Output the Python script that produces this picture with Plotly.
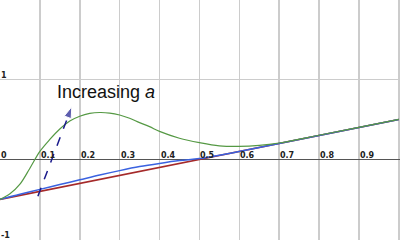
import plotly.graph_objects as go

# Data
x_vals = [0.0, 0.025, 0.05, 0.075, 0.1, 0.125, 0.15, 0.175, 0.2, 0.225, 0.25, 0.275, 0.3,
          0.325, 0.35, 0.375, 0.4, 0.45, 0.5, 0.55, 0.6, 0.65, 0.7, 0.8, 0.9, 1.0]
green_y = [-0.5, -0.43, -0.31, -0.11, 0.1, 0.25, 0.38, 0.48, 0.54, 0.575, 0.587, 0.58, 0.556,
           0.515, 0.46, 0.41, 0.35, 0.265, 0.21, 0.17, 0.163, 0.175, 0.205, 0.302, 0.401, 0.5]
blue_x = [0.0, 0.05, 0.1, 0.15, 0.2, 0.25, 0.3, 0.35, 0.4, 0.45, 0.5, 0.55, 0.6, 0.7, 0.8, 0.9, 1.0]
blue_y = [-0.5, -0.435, -0.375, -0.315, -0.255, -0.195, -0.14, -0.09, -0.05, -0.015, 0.01, 0.052,
          0.1, 0.2, 0.3, 0.4, 0.5]
red_x = [0.0, 1.0]
red_y = [-0.5, 0.5]
arrow_x = [0.095, 0.18]
arrow_y = [-0.46, 0.66]
x_tick_vals = [0.0, 0.1, 0.2, 0.3, 0.4, 0.5, 0.6, 0.7, 0.8, 0.9]
x_tick_text = ["0", "0.1", "0.2", "0.3", "0.4", "0.5", "0.6", "0.7", "0.8", "0.9"]
y_tick_vals = [1, -1]
y_tick_text = ["1", "-1"]

fig = go.Figure()
fig.add_trace(go.Scatter(x=red_x, y=red_y, mode="lines",
                         line=dict(color="#a52a2a", width=1.6)))
fig.add_trace(go.Scatter(x=blue_x, y=blue_y, mode="lines", line_shape="spline",
                         line=dict(color="#3a62e0", width=1.5)))
fig.add_trace(go.Scatter(x=x_vals, y=green_y, mode="lines", line_shape="spline",
                         line=dict(color="#559944", width=1.2)))
fig.add_trace(go.Scatter(x=arrow_x, y=arrow_y, mode="lines+markers",
                         line=dict(color="#1a1a8c", width=1.5, dash="dash"),
                         marker=dict(size=[0, 12], symbol="arrow", angleref="previous",
                                     color="#1a1a8c")))

annotations = []
for v, t in zip(x_tick_vals, x_tick_text):
    annotations.append(dict(x=v, y=0, text="<b>" + t + "</b>", showarrow=False,
                            xanchor="left", yanchor="bottom", xshift=-1, yshift=-3,
                            font=dict(family="DejaVu Sans", size=8, color="#222")))
for v, t in zip(y_tick_vals, y_tick_text):
    annotations.append(dict(x=0, y=v, text="<b>" + t + "</b>", showarrow=False,
                            xanchor="left", yanchor="bottom", xshift=-1, yshift=-3,
                            font=dict(family="DejaVu Sans", size=8, color="#222")))
annotations.append(dict(x=0.266, y=0.84, text="Increasing <i>a</i>", showarrow=False,
                        xanchor="center", yanchor="middle",
                        font=dict(family="Liberation Sans", size=18, color="#111")))

fig.update_layout(
    width=400, height=240,
    margin=dict(l=0, r=0, t=0, b=0),
    paper_bgcolor="white", plot_bgcolor="white",
    showlegend=False,
    annotations=annotations,
    xaxis=dict(range=[0.0, 1.003], dtick=0.1, tick0=0, showgrid=True, gridcolor="#cccccc",
               gridwidth=1.5, zeroline=False, showticklabels=False, showline=False),
    yaxis=dict(range=[-1.008, 1.994], dtick=1, tick0=0, showgrid=True, gridcolor="#cccccc",
               gridwidth=1.5, zeroline=True, zerolinecolor="#555555", zerolinewidth=1.2,
               showticklabels=False, showline=False),
)
fig.write_html("out.html", config={"displayModeBar": False, "staticPlot": True},
               post_script="document.body.style.margin='0';document.body.style.overflow='hidden';")
